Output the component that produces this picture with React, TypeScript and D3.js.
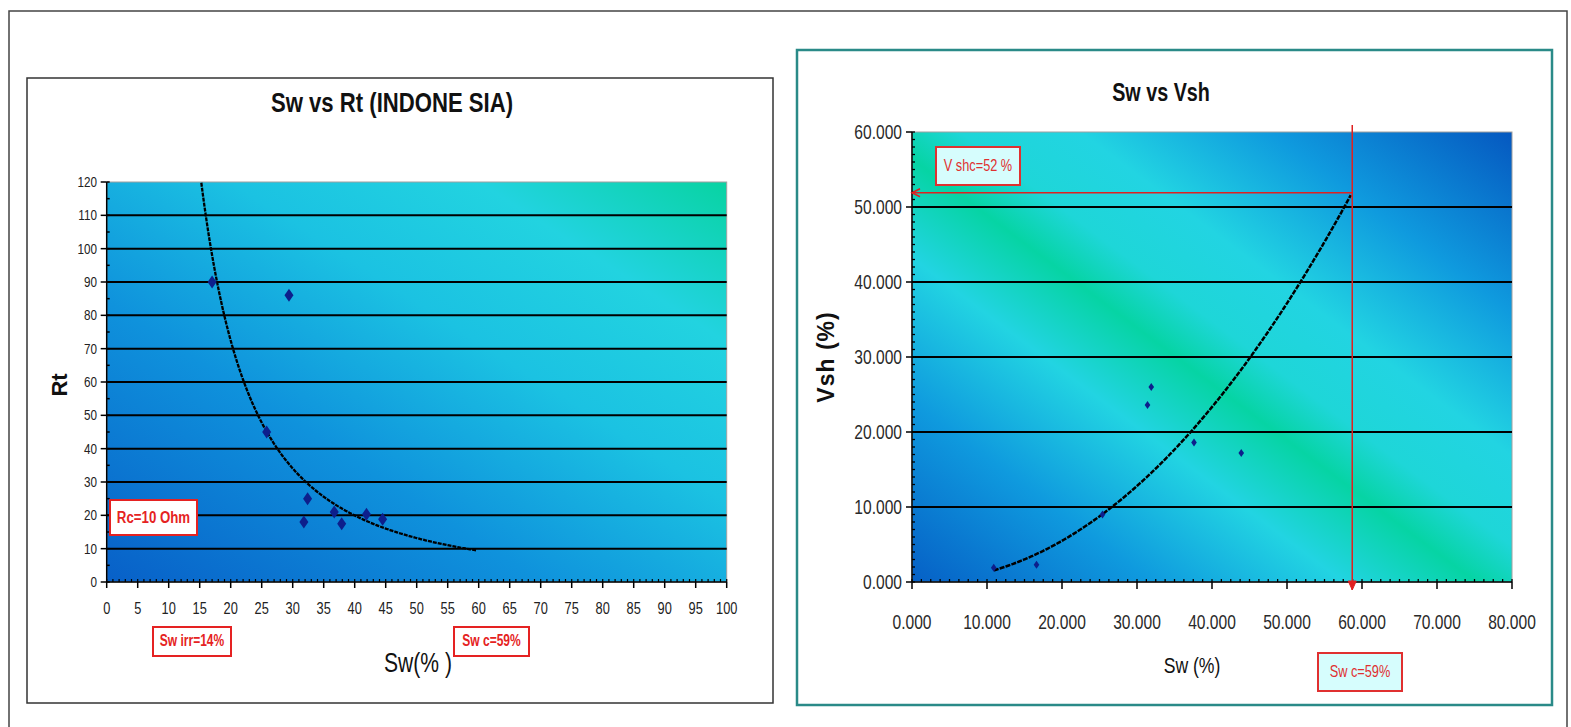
import React from "react";
import * as d3 from "d3";

// ---- Chart 1: Sw vs Rt ----
const rtSw = [17, 29.4, 25.8, 32.4, 31.8, 36.7, 37.9, 41.9, 44.5];
const rtVal = [90, 86, 45, 25, 18, 21, 17.5, 20.3, 18.8];
const rtXTicks = d3.range(0, 101, 5);
const rtYTicks = d3.range(0, 121, 10);
const rtTrend = { a: 19050, b: -1.86, from: 14, to: 59.6 }; // power trendline Rt = a*Sw^b

// ---- Chart 2: Sw vs Vsh ----
const vshSw = [10.9, 16.6, 25.4, 31.4, 31.9, 37.6, 43.9];
const vshVal = [1.9, 2.3, 9.0, 23.6, 26.0, 18.6, 17.2];
const vshXTicks = d3.range(0, 81, 10);
const vshYTicks = d3.range(0, 61, 10);
const vshTrend = { a: 0.01062, b: 2.086, from: 10.9, to: 58.65 }; // power trendline
const swc = 58.7;
const vshc = 51.9;

const SANS = "'Liberation Sans',Arial,sans-serif";

function diamond(cx: number, cy: number, hw: number, hh: number) {
  return `M${cx},${cy - hh}L${cx + hw},${cy}L${cx},${cy + hh}L${cx - hw},${cy}Z`;
}

function T(props: {
  x: number;
  y: number;
  sx?: number;
  size: number;
  anchor?: string;
  bold?: boolean;
  fill?: string;
  children: any;
}) {
  const { x, y, sx = 0.8, size, anchor = "middle", bold, fill = "#111", children } = props;
  return (
    <text
      transform={`translate(${x},${y}) scale(${sx},1)`}
      textAnchor={anchor}
      fontFamily={SANS}
      fontWeight={bold ? "bold" : "normal"}
      fontSize={size}
      fill={fill}
    >
      {children}
    </text>
  );
}

export default function App() {
  const xL = d3.scaleLinear().domain([0, 100]).range([106.7, 726.7]);
  const yL = d3.scaleLinear().domain([0, 120]).range([582, 182]);
  const xR = d3.scaleLinear().domain([0, 80]).range([912, 1512]);
  const yR = d3.scaleLinear().domain([0, 60]).range([582, 132]);

  const line = d3.line<[number, number]>().x((d) => d[0]).y((d) => d[1]);

  const rtCurve: [number, number][] = d3
    .range(rtTrend.from, rtTrend.to + 0.001, 0.2)
    .map((s) => [xL(s), yL(rtTrend.a * Math.pow(s, rtTrend.b))]);
  const vshCurve: [number, number][] = d3
    .range(vshTrend.from, vshTrend.to + 0.001, 0.2)
    .map((s) => [xR(s), yR(vshTrend.a * Math.pow(s, vshTrend.b))]);

  const rtMinorX = d3.range(0, 101, 1);
  const rtMinorY = d3.range(0, 121, 5);
  const vshMinorX = d3.range(0, 80.01, 1.25);
  const vshMinorY = d3.range(0, 60.01, 1);

  return (
    <div style={{ position: "absolute", left: 0, top: 0 }}>
      <svg width={1571} height={727} style={{ display: "block", background: "#fff" }}>
        <defs>
          <linearGradient id="gL" x1="0" y1="1" x2="1" y2="0">
            <stop offset="0" stopColor="#0860c8" />
            <stop offset="0.35" stopColor="#0f92dc" />
            <stop offset="0.6" stopColor="#1bc2e2" />
            <stop offset="0.8" stopColor="#22d3e0" />
            <stop offset="1" stopColor="#08d3a2" />
          </linearGradient>
          <linearGradient id="gR" x1="0" y1="1" x2="1" y2="0">
            <stop offset="0" stopColor="#0660c6" />
            <stop offset="0.2" stopColor="#0f9ade" />
            <stop offset="0.36" stopColor="#22d4e2" />
            <stop offset="0.47" stopColor="#06d4a4" />
            <stop offset="0.54" stopColor="#1ed6d8" />
            <stop offset="0.64" stopColor="#22d4e2" />
            <stop offset="0.8" stopColor="#0f9ade" />
            <stop offset="1" stopColor="#0558c0" />
          </linearGradient>
          <clipPath id="clipL">
            <rect x={xL(0)} y={yL(120)} width={xL(100) - xL(0)} height={yL(0) - yL(120)} />
          </clipPath>
          <clipPath id="clipR">
            <rect x={xR(0)} y={yR(60)} width={xR(80) - xR(0)} height={yR(0) - yR(60)} />
          </clipPath>
        </defs>

        {/* outer frame */}
        <path d="M9,740L9,11L1567,11L1567,740" fill="none" stroke="#444" strokeWidth={1.5} />

        {/* ================= LEFT CHART ================= */}
        <rect x={27} y={78} width={746} height={625} fill="#fff" stroke="#333" strokeWidth={1.5} />
        <T x={392} y={112} size={27} bold sx={0.82}>
          Sw vs Rt (INDONE SIA)
        </T>
        <rect x={xL(0)} y={yL(120)} width={xL(100) - xL(0)} height={yL(0) - yL(120)} fill="url(#gL)" stroke="#a0a0a0" strokeWidth={1} />
        {rtYTicks.filter((v) => v > 0 && v < 120).map((v) => (
          <line key={"lg" + v} x1={xL(0)} x2={xL(100)} y1={yL(v)} y2={yL(v)} stroke="#000" strokeWidth={2} />
        ))}
        <line x1={xL(0)} x2={xL(0)} y1={yL(0)} y2={yL(120)} stroke="#000" strokeWidth={1.5} />
        <line x1={xL(0)} x2={xL(100)} y1={yL(0)} y2={yL(0)} stroke="#000" strokeWidth={1.5} />
        {rtMinorY.map((v) => (
          <line key={"lmy" + v} x1={xL(0)} x2={xL(0) + 3} y1={yL(v)} y2={yL(v)} stroke="#000" strokeWidth={1.5} />
        ))}
        {rtYTicks.map((v) => (
          <line key={"lty" + v} x1={xL(0) - 6} x2={xL(0)} y1={yL(v)} y2={yL(v)} stroke="#000" strokeWidth={1.5} />
        ))}
        {rtMinorX.map((v) => (
          <line key={"lmx" + v} x1={xL(v)} x2={xL(v)} y1={yL(0) - 3} y2={yL(0)} stroke="#000" strokeWidth={1.2} />
        ))}
        {rtXTicks.map((v) => (
          <line key={"ltx" + v} x1={xL(v)} x2={xL(v)} y1={yL(0)} y2={yL(0) + 6} stroke="#000" strokeWidth={1.5} />
        ))}
        {rtYTicks.map((v) => (
          <T key={"lyl" + v} x={97} y={yL(v) + 5} size={15} anchor="end" fill="#222" sx={0.78}>
            {v}
          </T>
        ))}
        {rtXTicks.map((v) => (
          <T key={"lxl" + v} x={xL(v)} y={614} size={16} fill="#222" sx={0.8}>
            {v}
          </T>
        ))}
        <text transform="translate(67,385) rotate(-90)" textAnchor="middle" fontFamily={SANS} fontWeight="bold" fontSize={22} fill="#111">
          Rt
        </text>
        <T x={418} y={672} size={27} sx={0.78}>
          Sw(% )
        </T>
        <path d={line(rtCurve) || ""} clipPath="url(#clipL)" fill="none" stroke="#000" strokeWidth={2.3} strokeDasharray="4 1" />
        {rtSw.map((s, i) => (
          <path key={"lp" + i} d={diamond(xL(s), yL(rtVal[i]), 4.5, 6.5)} fill="#0d1f8c" />
        ))}
        <rect x={110} y={500} width={87} height={35} fill="#fff" stroke="#e52222" strokeWidth={2} />
        <T x={153.5} y={523} size={17} bold fill="#e52222" sx={0.78}>
          Rc=10 Ohm
        </T>
        <rect x={153} y={627} width={78} height={29} fill="#fff" stroke="#e52222" strokeWidth={2} />
        <T x={192} y={646} size={16} bold fill="#e52222" sx={0.75}>
          Sw irr=14%
        </T>
        <rect x={454} y={627} width={75} height={29} fill="#fff" stroke="#e52222" strokeWidth={2} />
        <T x={491.5} y={646} size={16} bold fill="#e52222" sx={0.75}>
          Sw c=59%
        </T>

        {/* ================= RIGHT CHART ================= */}
        <rect x={797} y={50} width={755} height={655} fill="#fff" stroke="#2a8a88" strokeWidth={2.5} />
        <T x={1161} y={101} size={26} bold sx={0.76}>
          Sw vs Vsh
        </T>
        <rect x={xR(0)} y={yR(60)} width={xR(80) - xR(0)} height={yR(0) - yR(60)} fill="url(#gR)" stroke="#a0a0a0" strokeWidth={1} />
        {vshYTicks.filter((v) => v > 0 && v < 60).map((v) => (
          <line key={"rg" + v} x1={xR(0)} x2={xR(80)} y1={yR(v)} y2={yR(v)} stroke="#000" strokeWidth={2} />
        ))}
        <line x1={xR(0)} x2={xR(0)} y1={yR(0)} y2={yR(60)} stroke="#000" strokeWidth={1.5} />
        <line x1={xR(0)} x2={xR(80)} y1={yR(0)} y2={yR(0)} stroke="#000" strokeWidth={1.5} />
        {vshMinorY.map((v) => (
          <line key={"rmy" + v} x1={xR(0)} x2={xR(0) + 3} y1={yR(v)} y2={yR(v)} stroke="#000" strokeWidth={1.3} />
        ))}
        {vshYTicks.map((v) => (
          <line key={"rty" + v} x1={xR(0) - 6} x2={xR(0)} y1={yR(v)} y2={yR(v)} stroke="#000" strokeWidth={1.5} />
        ))}
        {vshMinorX.map((v) => (
          <line key={"rmx" + v} x1={xR(v)} x2={xR(v)} y1={yR(0) - 3} y2={yR(0)} stroke="#000" strokeWidth={1.3} />
        ))}
        {vshXTicks.map((v) => (
          <line key={"rtx" + v} x1={xR(v)} x2={xR(v)} y1={yR(0)} y2={yR(0) + 7} stroke="#000" strokeWidth={1.5} />
        ))}
        {vshYTicks.map((v) => (
          <T key={"ryl" + v} x={902} y={yR(v) + 7} size={20} anchor="end" fill="#2a2a2a" sx={0.78}>
            {d3.format(".3f")(v)}
          </T>
        ))}
        {vshXTicks.map((v) => (
          <T key={"rxl" + v} x={xR(v)} y={629} size={20} fill="#2a2a2a" sx={0.78}>
            {d3.format(".3f")(v)}
          </T>
        ))}
        <text transform="translate(834,357) rotate(-90)" textAnchor="middle" fontFamily={SANS} fontWeight="bold" fontSize={23} letterSpacing={1} fill="#111">
          Vsh (%)
        </text>
        <T x={1192} y={673} size={22} sx={0.8}>
          Sw (%)
        </T>
        <path d={line(vshCurve) || ""} clipPath="url(#clipR)" fill="none" stroke="#000" strokeWidth={2.5} strokeDasharray="5 1.2" />
        <line x1={xR(swc)} x2={xR(swc)} y1={125} y2={yR(0) + 8} stroke="#e02020" strokeWidth={1.5} />
        <path d={`M${xR(swc) - 4},${yR(0) - 1}L${xR(swc)},${yR(0) + 8}L${xR(swc) + 4},${yR(0) - 1}Z`} fill="#e02020" stroke="#e02020" strokeWidth={1} />
        <line x1={xR(0)} x2={xR(swc)} y1={yR(vshc)} y2={yR(vshc)} stroke="#e02020" strokeWidth={1.5} />
        <path d={`M${xR(0) + 8},${yR(vshc) - 4}L${xR(0)},${yR(vshc)}L${xR(0) + 8},${yR(vshc) + 4}`} fill="none" stroke="#e02020" strokeWidth={1.5} />
        {vshSw.map((s, i) => (
          <path key={"rp" + i} d={diamond(xR(s), yR(vshVal[i]), 2.8, 4)} fill="#0d1f8c" />
        ))}
        <rect x={936} y={147} width={84} height={38} fill="#d6fdfd" stroke="#e03030" strokeWidth={2} />
        <T x={978} y={171} size={17} fill="#e03030" sx={0.75}>
          V shc=52 %
        </T>
        <rect x={1318} y={653} width={84} height={38} fill="#d6fdfd" stroke="#e03030" strokeWidth={2} />
        <T x={1360} y={677} size={17} fill="#e03030" sx={0.75}>
          Sw c=59%
        </T>
      </svg>
    </div>
  );
}
